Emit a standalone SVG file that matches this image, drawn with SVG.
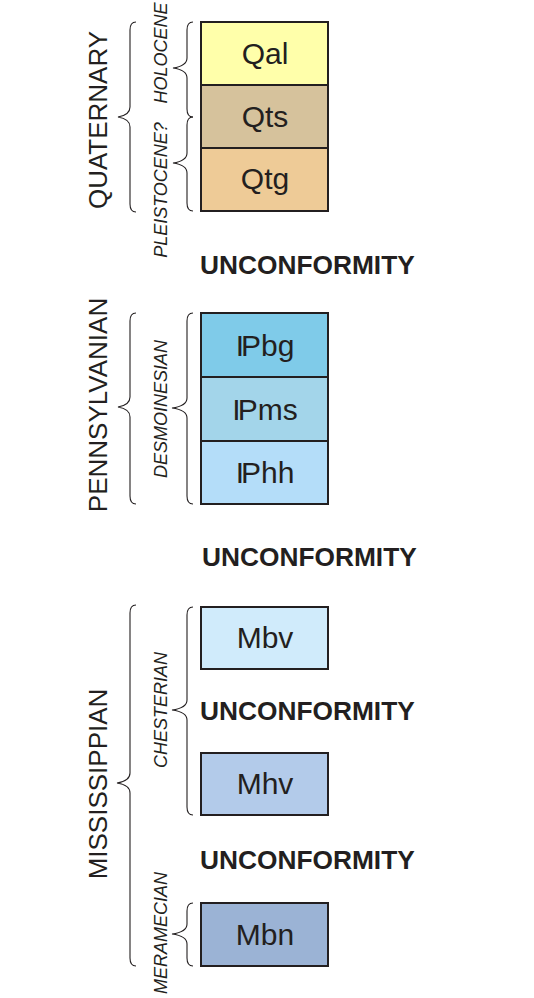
<svg xmlns="http://www.w3.org/2000/svg" width="534" height="998" viewBox="0 0 534 998">
  <style>
    .unit { stroke: #231f20; stroke-width: 2; }
    .code { font-family: "Liberation Sans", Arial, sans-serif; font-size: 30px; fill: #231f20; text-anchor: middle; }
    .period { font-family: "Liberation Sans", Arial, sans-serif; font-size: 26px; fill: #231f20; text-anchor: middle; }
    .epoch { font-family: "Liberation Sans", Arial, sans-serif; font-size: 18px; font-style: italic; fill: #231f20; text-anchor: middle; }
    .gap { font-family: "Liberation Sans", Arial, sans-serif; font-size: 26.3px; font-weight: bold; fill: #231f20; }
    .brace { fill: none; stroke: #231f20; stroke-width: 1.1; }
  </style>

  <!-- Quaternary units -->
  <g id="Qal"><rect class="unit" x="201" y="22" width="127" height="63" fill="#ffffaa"/><text class="code" x="265" y="64">Qal</text></g>
  <g id="Qts"><rect class="unit" x="201" y="85" width="127" height="63" fill="#d6c29c"/><text class="code" x="265" y="127">Qts</text></g>
  <g id="Qtg"><rect class="unit" x="201" y="148" width="127" height="63" fill="#eecb97"/><text class="code" x="265" y="189">Qtg</text></g>

  <!-- Pennsylvanian units (the I bar is set tight against the P) -->
  <g id="IPbg"><rect class="unit" x="201" y="313" width="127" height="64" fill="#7fcbe9"/><text class="code" x="265" y="356" dx="0 -3">IPbg</text></g>
  <g id="IPms"><rect class="unit" x="201" y="377" width="127" height="64" fill="#a3d5ea"/><text class="code" x="265" y="420" dx="0 -3">IPms</text></g>
  <g id="IPhh"><rect class="unit" x="201" y="441" width="127" height="63" fill="#b4ddf9"/><text class="code" x="265" y="483" dx="0 -3">IPhh</text></g>

  <!-- Mississippian units -->
  <g id="Mbv"><rect class="unit" x="201" y="607" width="127" height="62" fill="#d0ebfb"/><text class="code" x="265" y="648">Mbv</text></g>
  <g id="Mhv"><rect class="unit" x="201" y="753" width="127" height="62" fill="#b3cbea"/><text class="code" x="265" y="794">Mhv</text></g>
  <g id="Mbn"><rect class="unit" x="201" y="903" width="127" height="63" fill="#9bb3d5"/><text class="code" x="265" y="945">Mbn</text></g>

  <!-- Unconformities -->
  <g id="unconformities">
    <text class="gap" x="200" y="274">UNCONFORMITY</text>
    <text class="gap" x="202" y="566">UNCONFORMITY</text>
    <text class="gap" x="200" y="720">UNCONFORMITY</text>
    <text class="gap" x="200" y="869">UNCONFORMITY</text>
  </g>

  <!-- Period and epoch labels -->
  <g id="labels">
    <text class="period" transform="translate(107,120) rotate(-90)">QUATERNARY</text>
    <text class="period" transform="translate(107,405) rotate(-90)">PENNSYLVANIAN</text>
    <text class="period" transform="translate(107,784) rotate(-90)">MISSISSIPPIAN</text>
    <text class="epoch" transform="translate(167,53) rotate(-90)">HOLOCENE</text>
    <text class="epoch" transform="translate(167,190) rotate(-90)">PLEISTOCENE?</text>
    <text class="epoch" transform="translate(167,409) rotate(-90)">DESMOINESIAN</text>
    <text class="epoch" transform="translate(167,710) rotate(-90)">CHESTERIAN</text>
    <text class="epoch" transform="translate(167,933) rotate(-90)">MERAMECIAN</text>
  </g>

  <!-- Braces grouping units into periods and epochs -->
  <g id="braces">
    <path class="brace" d="M136,22 Q130,22 130,30 L130,107 Q130,115 118,117 Q130,119 130,127 L130,204 Q130,212 136,212"/>
    <path class="brace" d="M193,22 Q187,22 187,30 L187,58 Q187,66 173,68 Q187,70 187,78 L187,109 Q187,117 193,117"/>
    <path class="brace" d="M193,117 Q187,117 187,125 L187,153 Q187,161 173,163 Q187,165 187,173 L187,203 Q187,211 193,211"/>
    <path class="brace" d="M136,313 Q130,313 130,321 L130,397 Q130,405 118,407 Q130,409 130,417 L130,496 Q130,504 136,504"/>
    <path class="brace" d="M193,313 Q187,313 187,321 L187,398 Q187,406 172,408 Q187,410 187,418 L187,496 Q187,504 193,504"/>
    <path class="brace" d="M136,605 Q130,605 130,613 L130,773 Q130,781 117,783 Q130,785 130,793 L130,958 Q130,966 136,966"/>
    <path class="brace" d="M193,607 Q187,607 187,615 L187,700 Q187,708 172,710 Q187,712 187,720 L187,807 Q187,815 193,815"/>
    <path class="brace" d="M193,903 Q187,903 187,911 L187,924 Q187,932 172,934 Q187,936 187,944 L187,958 Q187,966 193,966"/>
  </g>
</svg>
